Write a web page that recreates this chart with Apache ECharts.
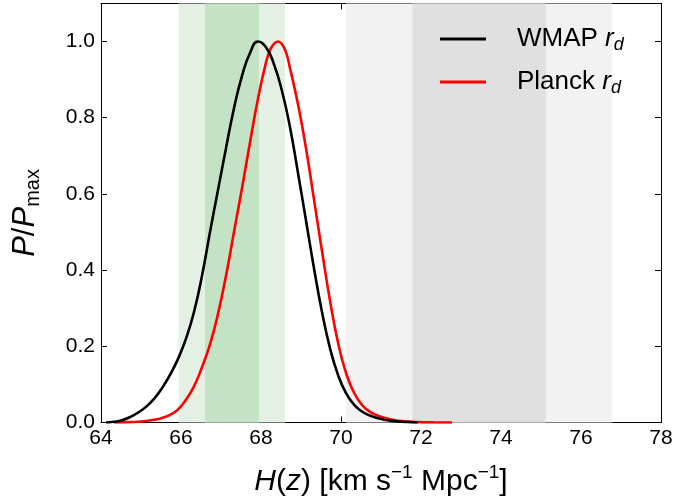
<!DOCTYPE html>
<html><head><meta charset="utf-8">
<script src="https://cdn.jsdelivr.net/npm/echarts@6/dist/echarts.min.js"></script>
<style>html,body{margin:0;padding:0;background:#fff}#c{width:697px;height:502px}</style>
</head><body><div id="c"></div>
<script>
// H(z) grid and normalised posteriors
const wmapH = [64.125,64.325,64.525,64.725,64.925,65.125,65.325,65.525,65.725,65.925,66.125,66.325,66.525,66.725,66.925,67.125,67.325,67.525,67.725,67.925,68.125,68.325,68.525,68.725,68.925,69.125,69.325,69.525,69.725,69.925,70.125,70.325,70.525,70.725,70.925,71.125,71.325,71.525,71.725,71.925];
const wmapP = [0.0,0.002,0.006,0.014,0.026,0.041,0.062,0.09,0.125,0.167,0.22,0.29,0.385,0.50,0.61,0.72,0.825,0.91,0.97,1.0,0.985,0.94,0.87,0.775,0.655,0.53,0.405,0.29,0.195,0.125,0.077,0.047,0.029,0.018,0.011,0.0065,0.0035,0.002,0.001,0.0];
const planckH = [64.325,64.725,64.925,65.125,65.325,65.525,65.725,65.925,66.125,66.325,66.525,66.725,66.925,67.125,67.325,67.525,67.725,67.925,68.125,68.225,68.325,68.425,68.525,68.625,68.725,68.925,69.125,69.325,69.525,69.725,69.925,70.125,70.325,70.525,70.725,70.925,71.125,71.325,71.525,71.725,71.925,72.325,72.775];
const planckP = [0.0,0.001,0.002,0.004,0.007,0.012,0.02,0.034,0.06,0.095,0.145,0.205,0.285,0.385,0.50,0.615,0.735,0.85,0.945,0.977,0.994,1.0,0.993,0.972,0.93,0.835,0.72,0.585,0.45,0.32,0.21,0.13,0.078,0.046,0.028,0.018,0.011,0.0065,0.0035,0.002,0.001,0.0003,0.0];
// shaded bands [from, to]
const greenOuter = [65.94, 68.60];
const greenInner = [66.60, 67.95];
const grayOuter = [70.12, 76.78];
const grayInner = [71.78, 75.12];
const xTicks = [64,66,68,70,72,74,76,78];
const yTicks = [0.0,0.2,0.4,0.6,0.8,1.0];

const FONT = 'Liberation Sans';
const pair = (xs, ys) => xs.map((x, i) => [x, ys[i]]);
const chart = echarts.init(document.getElementById('c'), null, {renderer: 'canvas'});
const band = (r, c) => [{xAxis: r[0], itemStyle: {color: c}}, {xAxis: r[1]}];

chart.setOption({
  animation: false,
  backgroundColor: '#fff',
  grid: {left: 101, right: 36, top: 3.4, bottom: 66.5},
  legend: {
    left: 440, top: 26, orient: 'vertical', itemGap: 15, padding: 0,
    itemWidth: 46, itemHeight: 3,
    data: [{name: 'WMAP', icon: 'rect', itemStyle: {color: '#000'}}, {name: 'Planck', icon: 'rect', itemStyle: {color: '#ff0000'}}],
    formatter: n => n + ' {i|r}{sub|d}',
    textStyle: {
      fontFamily: FONT, fontSize: 26, color: '#000', padding: [0, 0, 0, 26],
      rich: {
        i: {fontFamily: FONT, fontSize: 26, fontStyle: 'italic', color: '#000'},
        sub: {fontFamily: FONT, fontSize: 18, fontStyle: 'italic', color: '#000', padding: [12, 0, 0, 0]}
      }
    }
  },
  xAxis: [{
    type: 'value', min: 64, max: 78, interval: 2,
    axisLine: {show: true, onZero: false, lineStyle: {color: '#000', width: 1}},
    axisTick: {show: true, inside: true, length: 6, lineStyle: {color: '#000'}},
    splitLine: {show: false},
    axisLabel: {color: '#000', fontFamily: FONT, fontSize: 21, margin: 5,
      formatter: v => xTicks.indexOf(v) >= 0 ? String(v) : ''},
    name: '{i|H}({i|z}) [km s{sup|−1} Mpc{sup|−1}]',
    nameLocation: 'middle', nameGap: 41,
    nameTextStyle: {
      color: '#000', fontFamily: FONT, fontSize: 30,
      rich: {
        i: {fontFamily: FONT, fontSize: 30, fontStyle: 'italic', color: '#000'},
        sup: {fontFamily: FONT, fontSize: 19, color: '#000', padding: [0, 0, 18, 0]}
      }
    }
  }, {
    type: 'value', position: 'top', min: 64, max: 78, interval: 2,
    axisLine: {show: true, onZero: false, lineStyle: {color: '#000', width: 1}},
    axisTick: {show: true, inside: true, length: 6, lineStyle: {color: '#000'}},
    axisLabel: {show: false}, splitLine: {show: false}
  }],
  yAxis: [{
    type: 'value', min: 0, max: 1.1, interval: 0.2,
    axisLine: {show: true, onZero: false, lineStyle: {color: '#000', width: 1}},
    axisTick: {show: true, inside: true, length: 6, lineStyle: {color: '#000'}},
    splitLine: {show: false},
    axisLabel: {color: '#000', fontFamily: FONT, fontSize: 21, margin: 6, showMaxLabel: false,
      formatter: v => yTicks.some(t => Math.abs(t - v) < 1e-9) ? v.toFixed(1) : ''},
    name: '{i|P}/{i|P}{sub|max}',
    nameLocation: 'middle', nameGap: 58, nameRotate: 90,
    nameTextStyle: {
      color: '#000', fontFamily: FONT, fontSize: 31,
      rich: {
        i: {fontFamily: FONT, fontSize: 31, fontStyle: 'italic', color: '#000'},
        sub: {fontFamily: FONT, fontSize: 20, color: '#000', padding: [16, 0, 0, 0]}
      }
    }
  }, {
    type: 'value', position: 'right', min: 0, max: 1.1, interval: 0.2,
    axisLine: {show: true, onZero: false, lineStyle: {color: '#000', width: 1}},
    axisTick: {show: true, inside: true, length: 6, lineStyle: {color: '#000'}},
    axisLabel: {show: false}, splitLine: {show: false}
  }],
  series: [
    {
      name: 'bands', type: 'line', data: [], z: 1, silent: true,
      markArea: {silent: true, data: [band(greenOuter, '#e5f0e5'), band(grayOuter, '#f2f2f2')]}
    },
    {
      name: 'bands2', type: 'line', data: [], z: 1, silent: true,
      markArea: {silent: true, data: [band(greenInner, '#c4e2c4'), band(grayInner, '#e0e0e0')]}
    },
    {
      name: 'Planck', type: 'line', data: pair(planckH, planckP), smooth: 0.5, symbol: 'none', z: 3,
      lineStyle: {color: '#ff0000', width: 2.6}, itemStyle: {color: '#ff0000'}
    },
    {
      name: 'WMAP', type: 'line', data: pair(wmapH, wmapP), smooth: 0.5, symbol: 'none', z: 4,
      lineStyle: {color: '#000', width: 2.6}, itemStyle: {color: '#000'}
    }
  ]
});
</script></body></html>
